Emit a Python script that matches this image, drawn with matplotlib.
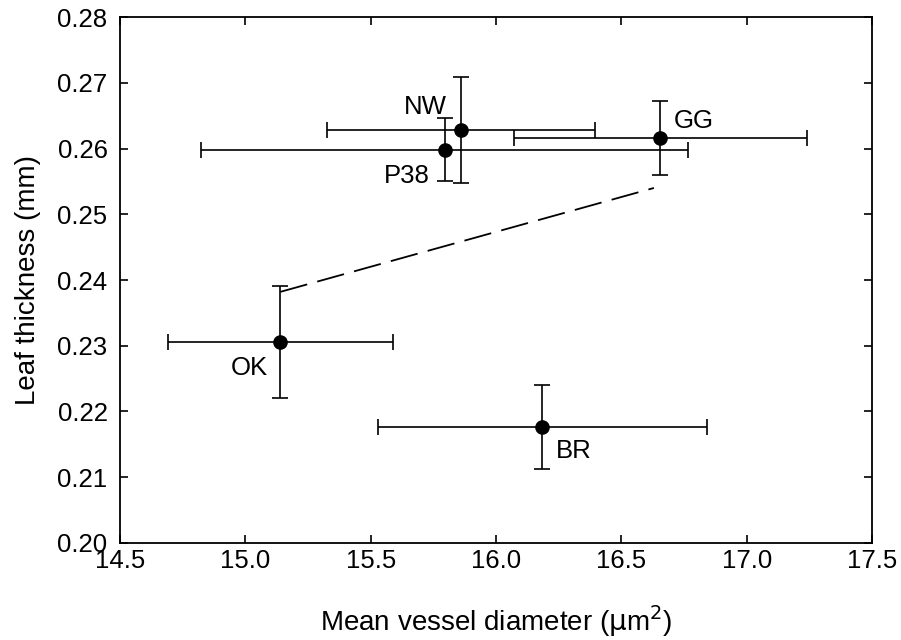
import matplotlib
matplotlib.use("Agg")
import matplotlib.pyplot as plt

# Data
labels = ["NW", "P38", "GG", "OK", "BR"]
vessel = [15.86, 15.795, 16.655, 15.14, 16.185]
vessel_err = [0.535, 0.97, 0.585, 0.45, 0.655]
thickness = [0.2628, 0.2598, 0.2616, 0.2306, 0.2176]
thickness_err = [0.0081, 0.0048, 0.0057, 0.0085, 0.0064]
fit_x = [15.14, 16.63]
fit_y = [0.2382, 0.2540]

xticks = [14.5, 15.0, 15.5, 16.0, 16.5, 17.0, 17.5]
yticks = [0.20, 0.21, 0.22, 0.23, 0.24, 0.25, 0.26, 0.27, 0.28]

# label offsets in pixels (dx right, dy up)
label_offsets = {"NW": (-36, 23), "P38": (-38, -26), "GG": (34, 17),
                 "OK": (-31, -26), "BR": (31, -24)}

plt.rcParams['font.family'] = ['Liberation Sans', 'DejaVu Sans']
plt.rcParams['lines.scale_dashes'] = False

fig = plt.figure(figsize=(9.01, 6.40), dpi=100)
ax = fig.add_axes([0.1332, 0.1516, 0.9678 - 0.1332, 0.9734 - 0.1516])

ax.plot(fit_x, fit_y, color='black', lw=1.3, dashes=(20, 7.5), zorder=1)

ax.errorbar(vessel, thickness, xerr=vessel_err, yerr=thickness_err,
            fmt='o', color='black', ms=9.5, elinewidth=1.2, capsize=5.5,
            capthick=1.2, zorder=3)

px = 0.72
for lab, x, y in zip(labels, vessel, thickness):
    dx, dy = label_offsets[lab]
    ax.annotate(lab, (x, y), xytext=(dx * px, dy * px), textcoords='offset points',
                ha='center', va='center', fontsize=18.5)

ax.set_xlim(14.5, 17.5)
ax.set_ylim(0.20, 0.28)
ax.set_xticks(xticks)
ax.set_xticklabels([f"{v:.1f}" for v in xticks])
ax.set_yticks(yticks)
ax.set_yticklabels([f"{v:.2f}" for v in yticks])

ax.tick_params(direction='in', length=6, width=1.2, labelsize=18.5,
               top=True, right=True)
ax.tick_params(axis='x', pad=4)
ax.tick_params(axis='y', pad=9)
for s in ax.spines.values():
    s.set_linewidth(1.3)

ax.set_xlabel(r"Mean vessel diameter ($\mathrm{\mu}$m$^2$)", fontsize=20, labelpad=22)
ax.set_ylabel("Leaf thickness (mm)", fontsize=20, labelpad=12)

fig.savefig("out.png", dpi=100)
